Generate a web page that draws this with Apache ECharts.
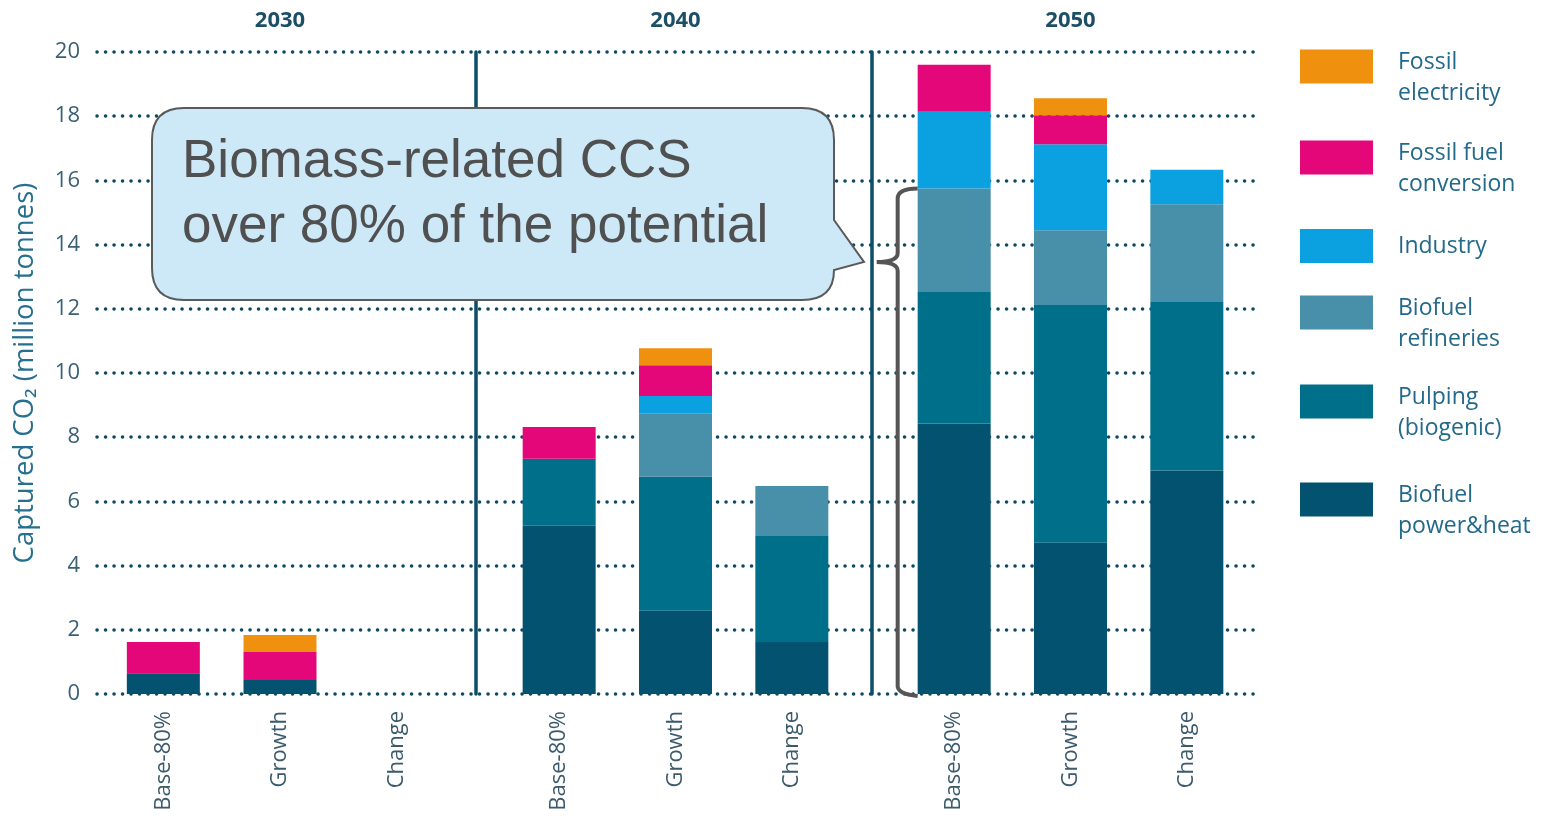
<!DOCTYPE html>
<html>
<head>
<meta charset="utf-8">
<title>Captured CO2 by source</title>
<script src="https://cdn.jsdelivr.net/npm/echarts@6/dist/echarts.min.js"></script>
<style>
  html, body { margin: 0; padding: 0; background: #ffffff; }
  #chart { width: 1541px; height: 816px; }
</style>
</head>
<body>
<div id="chart"></div>
<script>
// Scenarios shown in every year group, and the year groups themselves
const scenarios = ['Base-80%', 'Growth', 'Change'];
const years = ['2030', '2040', '2050'];

// Captured CO2, million tonnes; order: 2030 (Base, Growth, Change), 2040 (...), 2050 (...)
const biofuelPowerHeat     = [0.65, 0.44, 0, 5.24, 2.59, 1.62, 8.43, 4.71, 6.96];
const pulpingBiogenic      = [0,    0,    0, 2.09, 4.18, 3.30, 4.12, 7.41, 5.25];
const biofuelRefineries    = [0,    0,    0, 0,    1.98, 1.56, 3.20, 2.33, 3.05];
const industry             = [0,    0,    0, 0,    0.53, 0,    2.39, 2.68, 1.07];
const fossilFuelConversion = [0.97, 0.87, 0, 0.99, 0.96, 0,    1.46, 0.90, 0];
const fossilElectricity    = [0,    0.53, 0, 0,    0.53, 0,    0,    0.53, 0];

// Y axis ticks
const yTicks = [0, 2, 4, 6, 8, 10, 12, 14, 16, 18, 20];

const sectors = [
  { name: 'Biofuel power&heat',     label: 'Biofuel\npower&heat',     values: biofuelPowerHeat,     color: '#03526f', biomass: true },
  { name: 'Pulping (biogenic)',     label: 'Pulping\n(biogenic)',     values: pulpingBiogenic,      color: '#006f8a', biomass: true },
  { name: 'Biofuel refineries',     label: 'Biofuel\nrefineries',     values: biofuelRefineries,    color: '#488fa9', biomass: true },
  { name: 'Industry',               label: 'Industry',                values: industry,             color: '#0ba0e0' },
  { name: 'Fossil fuel conversion', label: 'Fossil fuel\nconversion', values: fossilFuelConversion, color: '#e3077a' },
  { name: 'Fossil electricity',     label: 'Fossil\nelectricity',     values: fossilElectricity,    color: '#f0900f' }
];

const FONT = '"Open Sans", "Noto Sans", sans-serif';
const gridTop = 52, gridBottom = 122;
const groupGrids = [
  { left: 105, width: 350, sep: null },
  { left: 501, width: 349, sep: 25 },
  { left: 896, width: 349, sep: 24 }
];

const grid = [{ left: 97, right: 286, top: gridTop, bottom: gridBottom }];
const xAxis = [{ gridIndex: 0, type: 'value', show: false }];
const yAxis = [{
  gridIndex: 0, type: 'value', min: yTicks[0], max: yTicks[yTicks.length - 1], interval: 2,
  axisLine: { show: false }, axisTick: { show: false },
  axisLabel: { color: '#3a6173', fontSize: 22, fontFamily: FONT, margin: 17 },
  splitLine: { lineStyle: { color: '#0d4a62', width: 3.5, type: [0.1, 8.4], cap: 'round' } },
  name: 'Captured CO\u2082 (million tonnes)', nameLocation: 'middle', nameGap: 58,
  nameTextStyle: { color: '#26708f', fontSize: 27.5, fontFamily: FONT }
}];

groupGrids.forEach((g, i) => {
  grid.push({ left: g.left, width: g.width, top: gridTop, bottom: gridBottom });
  xAxis.push({
    gridIndex: i + 1, type: 'category', data: scenarios, position: 'bottom',
    axisLine: { show: false }, axisTick: { show: false },
    axisLabel: { rotate: 90, margin: 17, fontSize: 22, fontFamily: FONT, color: '#3b5a6b' }
  });
  yAxis.push({
    gridIndex: i + 1, type: 'value', min: 0, max: 20, interval: 2,
    offset: g.sep || 0,
    axisLine: { show: g.sep !== null, lineStyle: { color: '#0c4d68', width: 3.5 } },
    axisTick: { show: false }, axisLabel: { show: false }, splitLine: { show: false }
  });
});
// Year headings above each group
groupGrids.forEach((g, i) => {
  xAxis.push({
    gridIndex: i + 1, type: 'category', data: scenarios, position: 'top',
    axisLine: { show: false }, axisTick: { show: false }, axisLabel: { show: false },
    name: years[i], nameLocation: 'middle', nameGap: 20,
    nameTextStyle: { fontSize: 22, fontWeight: 'bold', fontFamily: FONT, color: '#1c4f66' }
  });
});

const series = [];
years.forEach((y, gi) => {
  sectors.forEach(s => {
    series.push({
      type: 'bar', name: s.name, stack: 'year' + y,
      xAxisIndex: gi + 1, yAxisIndex: gi + 1,
      barWidth: 73,
      itemStyle: { color: s.color },
      emphasis: { disabled: true },
      data: s.values.slice(gi * 3, gi * 3 + 3)
    });
  });
});

// Legend: one entry per block, top-down from fossil electricity to biofuel power&heat.
// Two-line names get an empty lead line so the first line sits beside the swatch.
const swatchTops = [49, 140, 229, 295, 384, 482];
const legend = sectors.slice().reverse().map((s, i) => {
  const twoLines = s.label.indexOf('\n') >= 0;
  return {
    data: [s.name], left: 1300, top: twoLines ? swatchTops[i] - 14 : swatchTops[i],
    padding: 0, orient: 'vertical',
    icon: 'rect', itemWidth: 73, itemHeight: 34, selectedMode: false,
    formatter: () => twoLines
      ? '{gap|}\n' + s.label.split('\n').map(t => '{t|' + t + '}').join('\n')
      : '{t|' + s.label + '}',
    textStyle: {
      padding: [0, 0, 0, 20],
      rich: {
        gap: { fontSize: 1, lineHeight: 22 },
        t: { fontSize: 23, fontFamily: FONT, color: '#23698a', lineHeight: 31 }
      }
    }
  };
});

const chart = echarts.init(document.getElementById('chart'), null, { renderer: 'canvas' });
chart.setOption({
  animation: false,
  backgroundColor: '#ffffff',
  grid, xAxis, yAxis, legend, series
});

// Brace spanning the biomass-based part of the 2050 Base-80% column
const biomassTotal = sectors.filter(s => s.biomass).reduce((a, s) => a + s.values[6], 0);
const topPt = chart.convertToPixel({ xAxisIndex: 3, yAxisIndex: 3 }, [0, biomassTotal]);
const botPt = chart.convertToPixel({ xAxisIndex: 3, yAxisIndex: 3 }, [0, 0]);
const x0 = topPt[0] - 36.5, xb = x0 - 20, xt = x0 - 41, tipY = 262;
const bracePath =
  `M${x0},${topPt[1]} Q${xb},${topPt[1]} ${xb},${topPt[1] + 10} ` +
  `V${tipY - 9} Q${xb},${tipY} ${xt},${tipY} Q${xb},${tipY} ${xb},${tipY + 9} ` +
  `V${botPt[1] - 8} Q${xb},${botPt[1]} ${x0},${botPt[1] + 2}`;

// Speech bubble pointing at the brace
const bubblePath =
  'M184,108 H802 Q834,108 834,140 V220 L864,262 L834,270 Q834,300 802,300 ' +
  'H184 Q152,300 152,268 V140 Q152,108 184,108 Z';

echarts.graphic.registerShape('braceShape', echarts.graphic.extendPath(bracePath, {}));
echarts.graphic.registerShape('bubbleShape', echarts.graphic.extendPath(bubblePath, {}));

chart.setOption({
  graphic: [
    { type: 'braceShape', z: 100,
      style: { fill: null, stroke: '#555555', lineWidth: 4 } },
    { type: 'bubbleShape', z: 100,
      style: { fill: '#cde9f8', stroke: '#5a5a5a', lineWidth: 2 } },
    { type: 'text', z: 101, x: 182, y: 130,
      style: { text: 'Biomass-related CCS\nover 80% of the potential',
               fontSize: 53, fontFamily: '"Liberation Sans", Arial, sans-serif',
               fill: '#505050', lineHeight: 65, verticalAlign: 'top' } }
  ]
});
</script>
</body>
</html>
